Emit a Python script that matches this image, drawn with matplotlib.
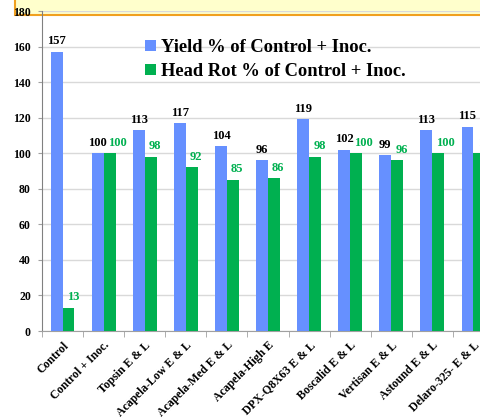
import numpy as np
import matplotlib.pyplot as plt
from matplotlib.patches import Rectangle

categories = ["Control", "Control + Inoc.", "Topsin E & L", "Acapela-Low E & L",
              "Acapela-Med E & L", "Acapela-High E", "DPX-Q8X63 E & L",
              "Boscalid E & L", "Vertisan E & L", "Astound E & L", "Delaro-325- E & L"]
yield_pct = [157, 100, 113, 117, 104, 96, 119, 102, 99, 113, 115]
headrot_pct = [13, 100, 98, 92, 85, 86, 98, 100, 96, 100, 100]

blue = "#6690ff"
green = "#00b050"
serif = "Liberation Serif"

fig = plt.figure(figsize=(4.81, 4.19), dpi=100)

# title box band cut off at the top
band = Rectangle((15 / 481, 404 / 419), 1.0, 0.1, transform=fig.transFigure,
                 facecolor="#ffffcc", edgecolor="#f0a020", linewidth=1.5, zorder=-1)
fig.add_artist(band)

ax = fig.add_axes([42 / 481, 88 / 419, 452 / 481, 320 / 419])
ax.set_facecolor("none")

x = np.arange(len(categories))
w = 0.29
ax.bar(x - w / 2, yield_pct, w, color=blue, label="Yield % of Control + Inoc.", zorder=3)
ax.bar(x + w / 2, headrot_pct, w, color=green, label="Head Rot % of Control + Inoc.", zorder=3)

for i in range(len(categories)):
    ax.text(x[i] - w / 2, yield_pct[i] + 2.5, str(yield_pct[i]), ha="center", va="bottom",
            fontsize=9, fontweight="bold", family=serif, color="black")
    ax.text(x[i] + 0.1, headrot_pct[i] + 2.5, str(headrot_pct[i]), ha="left", va="bottom",
            fontsize=9, fontweight="bold", family=serif, color=green)

ax.set_xlim(-0.5, len(categories) - 0.5)
ax.set_ylim(0, 180)
ax.set_yticks(np.arange(0, 181, 20))
ax.grid(axis="y", color="#d9d9d9", linewidth=1, zorder=0)

ax.set_xticks(x)
ax.set_xticklabels(categories, rotation=45, ha="right", rotation_mode="anchor",
                   fontsize=8.5, fontweight="bold", family=serif)
ax.set_xticks(np.arange(-0.5, len(categories)), minor=True)
ax.tick_params(axis="x", which="major", length=0, pad=6)
ax.tick_params(axis="x", which="minor", length=4, color="#a0a0a0")
ax.tick_params(axis="y", length=3, color="#a0a0a0", pad=5)
for lab in ax.get_yticklabels():
    lab.set_fontfamily(serif)
    lab.set_fontweight("bold")
    lab.set_fontsize(8.5)

for s in ["top", "right"]:
    ax.spines[s].set_visible(False)
ax.spines["left"].set_color("#808080")
ax.spines["bottom"].set_color("#a0a0a0")

ax.legend(loc="upper left", bbox_to_anchor=(138 / 481, 1 - 32 / 419), bbox_transform=fig.transFigure,
          frameon=False, prop={"family": serif, "weight": "bold", "size": 13.3},
          handlelength=0.55, handleheight=0.55, handletextpad=0.3, labelspacing=0.35,
          borderaxespad=0)

fig.savefig("out.png", dpi=100)
